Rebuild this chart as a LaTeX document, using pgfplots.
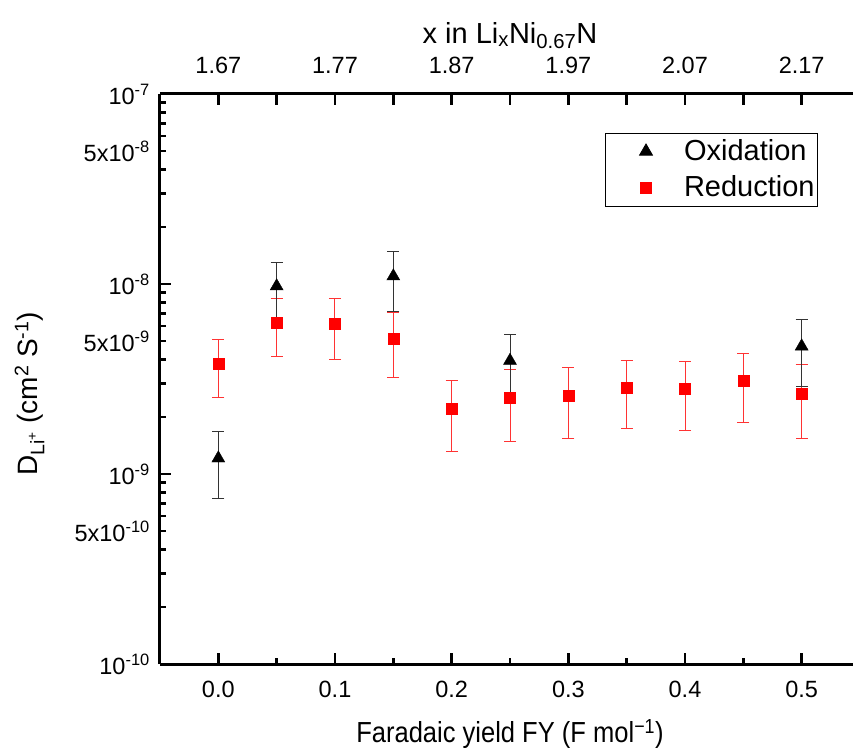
\documentclass[border=0pt]{standalone}
\usepackage{fontspec}
\setmainfont{Liberation Sans}
\newfontfamily\narrowfont{Liberation Sans}[FakeStretch=0.88]
\usepackage{pgfplots}
\pgfplotsset{compat=1.18}
\begin{document}
\fontsize{24}{28}\selectfont
\begin{tikzpicture}
\begin{axis}[name=ax, scale only axis, width=700pt, height=570pt,
  xmin=-0.05, xmax=0.55, ymode=log, ymin=1e-10, ymax=1e-7,
  axis x line*=bottom, axis y line*=left,
  axis line style={line width=3pt, -},
  tick align=inside, major tick length=11pt, minor tick length=6pt,
  every tick/.style={line width=2.5pt, black},
  xtick={0,0.1,0.2,0.3,0.4,0.5}, xticklabels={0.0,0.1,0.2,0.3,0.4,0.5},
  minor xtick={0.05,0.15,0.25,0.35,0.45},
  ytick={1e-10,1e-9,1e-8,1e-7},
  yticklabels={10\textsuperscript{-10},10\textsuperscript{-9},10\textsuperscript{-8},10\textsuperscript{-7}},
  minor ytick={2e-10,3e-10,4e-10,6e-10,7e-10,8e-10,9e-10,2e-9,3e-9,4e-9,6e-9,7e-9,8e-9,9e-9,2e-8,3e-8,4e-8,6e-8,7e-8,8e-8,9e-8},
  extra y ticks={5e-10,5e-9,5e-8},
  extra y tick labels={5x10\textsuperscript{-10},5x10\textsuperscript{-9},5x10\textsuperscript{-8}},
  extra tick style={major tick length=6pt},
  ticklabel style={font=\fontsize{23.5}{28}\selectfont},
  xticklabel style={anchor=base, yshift=-33pt},
  yticklabel style={xshift=-2pt},
  xlabel={Faradaic yield FY (F mol\textsuperscript{−1})},
  ylabel={D\textsubscript{Li\textsuperscript{+}} (cm\textsuperscript{2} S\textsuperscript{-1})},
  xlabel style={font=\narrowfont\fontsize{29}{32}\selectfont, at={(axis description cs:0.5,-0.138)}, anchor=base},
  ylabel style={font=\fontsize{28}{30}\selectfont, at={(axis description cs:-0.175,0.474)}, anchor=base},
  legend style={at={(0.94,0.932)}, anchor=north east, draw=black, line width=0.8pt,
    font=\fontsize{29}{32}\selectfont, inner xsep=3pt, inner ysep=6pt,
    nodes={inner sep=0pt}, column sep=29pt, row sep=12pt},
  legend image code/.code={\path[draw=none,fill=none] (-38pt,-6pt) rectangle (9pt,6pt); \draw[#1] plot coordinates {(0pt,0pt)};},
  legend cell align=left, reverse legend,
  clip=false,
]
\addplot[only marks, mark=square*, mark size=5.5pt, color=red,
  error bars/.cd, y dir=both, y explicit,
  error bar style={line width=1pt, red!80!white},
  error mark options={rotate=90, mark size=6pt, line width=1pt, red!80!white}]
coordinates {
(0.00,3.83e-9) +- (0,1.29e-9)
(0.05,6.24e-9) +- (0,2.11e-9)
(0.10,6.22e-9) +- (0,2.20e-9)
(0.15,5.16e-9) +- (0,1.92e-9)
(0.20,2.20e-9) +- (0,0.89e-9)
(0.25,2.51e-9) +- (0,1.02e-9)
(0.30,2.59e-9) +- (0,1.05e-9)
(0.35,2.86e-9) +- (0,1.12e-9)
(0.40,2.81e-9) +- (0,1.11e-9)
(0.45,3.08e-9) +- (0,1.22e-9)
(0.50,2.65e-9) +- (0,1.12e-9)
};
\addlegendentry{Reduction}
\addplot[only marks, mark=triangle*, mark size=7.5pt, color=black,
  error bars/.cd, y dir=both, y explicit,
  error bar style={line width=1pt, black!80!white},
  error mark options={rotate=90, mark size=6pt, line width=1pt, black!80!white}]
coordinates {
(0.00,1.21e-9) +- (0,0.47e-9)
(0.05,9.74e-9) +- (0,3.3e-9)
(0.15,1.099e-8) +- (0,3.8e-9)
(0.25,3.95e-9) +- (0,1.5e-9)
(0.50,4.70e-9) +- (0,1.8e-9)
};
\addlegendentry{Oxidation}
\end{axis}
\begin{axis}[scale only axis, width=700pt, height=570pt,
  xmin=-0.05, xmax=0.55, ymin=0, ymax=1,
  axis x line*=top, axis y line=none,
  axis line style={line width=3pt, -},
  tick align=inside, major tick length=11pt, minor tick length=11pt,
  every tick/.style={line width=2.5pt, black},
  xtick={0,0.1,0.2,0.3,0.4,0.5}, xticklabels={1.67,1.77,1.87,1.97,2.07,2.17},
  minor xtick={0.05,0.15,0.25,0.35,0.45},
  ticklabel style={font=\fontsize{23.5}{28}\selectfont},
  xticklabel style={anchor=base, yshift=20.7pt},
  xlabel={x in Li\textsubscript{x}Ni\textsubscript{0.67}N},
  xlabel style={font=\fontsize{29}{32}\selectfont, at={(axis description cs:0.5,1.089)}, anchor=base},
]
\end{axis}
\pgfresetboundingbox
\path ([shift={(-160pt,-87pt)}]ax.south west) rectangle ([shift={(693pt,664pt)}]ax.south west);
\end{tikzpicture}
\end{document}
